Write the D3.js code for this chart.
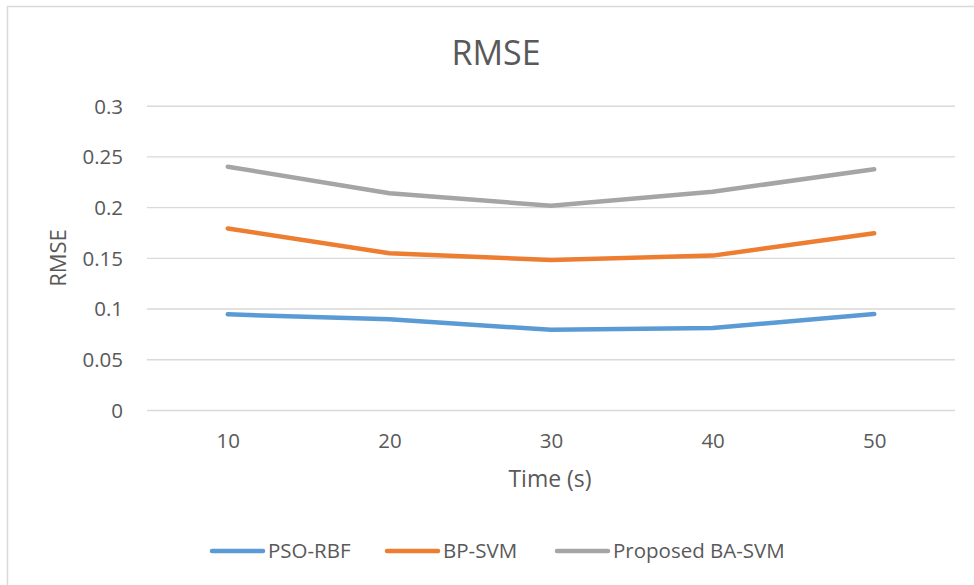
<!DOCTYPE html>
<html>
<head>
<meta charset="utf-8">
<script src="https://cdn.jsdelivr.net/npm/d3@7"></script>
<style>
  html, body { margin: 0; padding: 0; background: #fff; }
  svg { display: block; font-family: "Open Sans", "Noto Sans", sans-serif; }
</style>
</head>
<body>
<svg id="chart" width="974" height="585"></svg>
<script>
// Time steps on the x axis (seconds)
const categories = ["10", "20", "30", "40", "50"];

// RMSE per method at each time step
const psoRbf    = [0.0943, 0.0894, 0.0790, 0.0808, 0.0946];
const bpSvm     = [0.1790, 0.1545, 0.1479, 0.1522, 0.1742];
const baSvm     = [0.2399, 0.2136, 0.2014, 0.2152, 0.2373];

const seriesNames  = ["PSO-RBF", "BP-SVM", "Proposed BA-SVM"];
const seriesColors = ["#5B9BD5", "#ED7D31", "#A5A5A5"];
const yTicks = [0, 0.05, 0.1, 0.15, 0.2, 0.25, 0.3];

const series = [psoRbf, bpSvm, baSvm].map((values, i) => ({
  name: seriesNames[i], color: seriesColors[i], values
}));

const svg = d3.select("#chart");
const textColor = "#595959";
const plot = { left: 147, right: 955, top: 105.7, bottom: 410 };

// outer chart frame
svg.append("rect")
  .attr("x", 7.5).attr("y", 6.5)
  .attr("width", 1000).attr("height", 620)
  .attr("fill", "#fff")
  .attr("stroke", "#d9d9d9").attr("stroke-width", 1.5);

const x = d3.scalePoint().domain(categories).range([plot.left, plot.right]).padding(0.5);
const y = d3.scaleLinear().domain([0, 0.3]).range([plot.bottom, plot.top]);

// horizontal gridlines + y tick labels
const yAxis = d3.axisLeft(y).tickValues(yTicks)
  .tickSize(-(plot.right - plot.left))
  .tickPadding(24)
  .tickFormat(d => d3.format("")(+d.toFixed(2)));
const gy = svg.append("g").attr("transform", `translate(${plot.left},0)`).call(yAxis);
gy.select(".domain").remove();
gy.selectAll(".tick line").attr("stroke", "#d9d9d9").attr("stroke-width", 1.4);
gy.selectAll(".tick text").attr("fill", textColor).attr("font-size", 20.5)
  .attr("font-family", "Open Sans").attr("dy", "0.36em");

// x tick labels
const xAxis = d3.axisBottom(x).tickSize(0).tickPadding(0);
const gx = svg.append("g").attr("transform", `translate(0,${plot.bottom})`).call(xAxis);
gx.select(".domain").remove();
gx.selectAll(".tick text").attr("fill", textColor).attr("font-size", 20.5)
  .attr("font-family", "Open Sans").attr("dy", 0).attr("y", 38);

// series lines
const line = d3.line().x((d, i) => x(categories[i])).y(d => y(d));
svg.append("g").selectAll("path").data(series).join("path")
  .attr("d", d => line(d.values))
  .attr("fill", "none")
  .attr("stroke", d => d.color)
  .attr("stroke-width", 4.5)
  .attr("stroke-linecap", "round")
  .attr("stroke-linejoin", "round");

// title
svg.append("text").attr("x", 496).attr("y", 65)
  .attr("text-anchor", "middle").attr("fill", textColor)
  .attr("font-size", 34).text("RMSE");

// axis titles
svg.append("text").attr("x", 550).attr("y", 487)
  .attr("text-anchor", "middle").attr("fill", textColor)
  .attr("font-size", 23).text("Time (s)");
svg.append("text")
  .attr("transform", "translate(66,258) rotate(-90)")
  .attr("text-anchor", "middle").attr("fill", textColor)
  .attr("font-size", 22).text("RMSE");

// legend
const legendX = [210, 385, 555];
const legend = svg.append("g").selectAll("g").data(series).join("g")
  .attr("transform", (d, i) => `translate(${legendX[i]},551)`);
legend.append("line")
  .attr("x1", 2).attr("x2", 53).attr("y1", 0).attr("y2", 0)
  .attr("stroke", d => d.color).attr("stroke-width", 4.5)
  .attr("stroke-linecap", "round");
legend.append("text")
  .attr("x", 58).attr("y", 7).attr("fill", textColor)
  .attr("font-size", 20.5).text(d => d.name);
</script>
</body>
</html>
